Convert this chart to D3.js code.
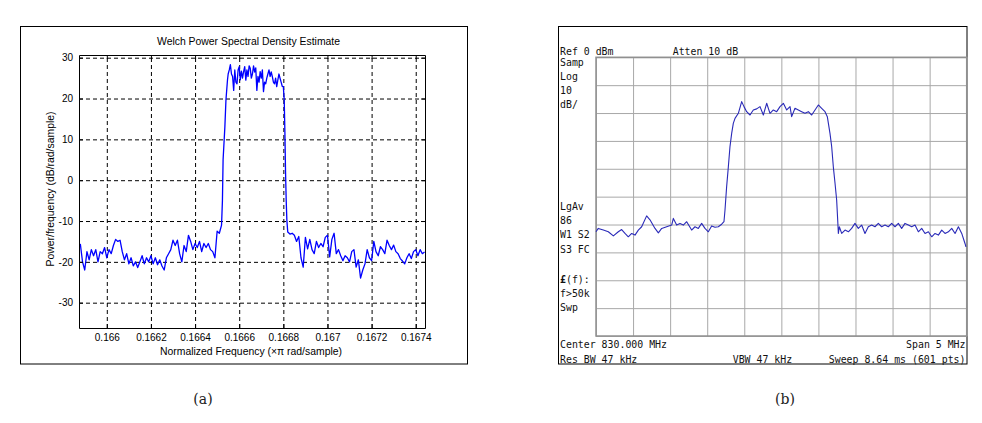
<!DOCTYPE html>
<html><head><meta charset="utf-8">
<script src="https://cdn.jsdelivr.net/npm/d3@7"></script>
<style>
body{margin:0;background:#fff;}
svg{display:block;}
</style></head><body>
<svg id="c" width="982" height="423"></svg>
<script>
// ---------- Chart (a): Welch PSD ----------
const titleA = "Welch Power Spectral Density Estimate";
const xLabelA = "Normalized Frequency (\u00d7\u03c0 rad/sample)";
const yLabelA = "Power/frequency (dB/rad/sample)";
const xDomainA = [0.165874, 0.167442];
const yDomainA = [-36.2, 30.66];
const xTicksA = [0.166, 0.1662, 0.1664, 0.1666, 0.1668, 0.167, 0.1672, 0.1674];
const xTickLabelsA = ["0.166", "0.1662", "0.1664", "0.1666", "0.1668", "0.167", "0.1672", "0.1674"];
const yTicksA = [-30, -20, -10, 0, 10, 20, 30];
const yTickLabelsA = ["-30", "-20", "-10", "0", "10", "20", "30"];
const psdA = [
[0.16588,-15.6],[0.16589,-20],[0.1659,-22],[0.16591,-17.5],[0.16592,-19.5],[0.16593,-17],
[0.16594,-18.5],[0.16595,-17],[0.16596,-20],[0.16597,-17.5],[0.16598,-18],[0.16599,-16.5],
[0.166,-19],[0.16601,-17],[0.16602,-18],[0.16603,-16],[0.16604,-14.5],[0.16605,-15],
[0.16606,-14.7],[0.16607,-17.5],[0.16608,-19.5],[0.16609,-18],[0.1661,-20.5],[0.16611,-19],
[0.16612,-21],[0.16613,-20],[0.16614,-21.4],[0.16615,-20],[0.16616,-18.5],[0.16617,-20.5],
[0.16618,-19],[0.16619,-20],[0.1662,-18.5],[0.16621,-20.5],[0.16622,-19],[0.16623,-20.7],
[0.16624,-19.5],[0.16625,-21],[0.16626,-22],[0.16627,-19],[0.16628,-18],[0.16629,-17],
[0.1663,-14.7],[0.16631,-16],[0.16632,-14.7],[0.16633,-18],[0.16634,-20],[0.16635,-16],
[0.16636,-17.5],[0.16637,-13.5],[0.16638,-15],[0.16639,-17],[0.1664,-15.5],[0.16641,-16.5],
[0.16642,-15],[0.16643,-17.5],[0.16644,-15.5],[0.16645,-16.5],[0.16646,-15.5],[0.16647,-17],
[0.16648,-17.5],[0.16649,-19],[0.1665,-12.5],[0.16651,-13],[0.16652,-11],
[0.166524,-5],[0.166527,5],[0.16653,8],[0.166535,13],[0.16654,19.7],[0.166547,24.6],
[0.16655,26],[0.166555,27],[0.16656,28.3],[0.166565,26],[0.16657,25.4],[0.166575,22],
[0.16658,27],[0.166585,24],[0.16659,23.6],[0.166595,27],[0.1666,27.8],[0.166605,24.6],
[0.16661,26.7],[0.166615,25],[0.16662,26.6],[0.166625,27.8],[0.16663,24.5],[0.166635,27],
[0.16664,25.4],[0.166645,28],[0.16665,27.4],[0.166655,25],[0.16666,26],[0.166665,28],
[0.16667,26.5],[0.166675,27.5],[0.16668,22],[0.166685,25.4],[0.16669,24],[0.166695,26.6],
[0.1667,25],[0.166705,27],[0.16671,21.7],[0.166715,24],[0.16672,23.6],[0.166725,25],
[0.16673,26],[0.166735,27],[0.16674,25.4],[0.166745,26.5],[0.16675,25.4],[0.166755,24],
[0.16676,23.6],[0.166765,25],[0.16677,22.9],[0.166775,24.5],[0.16678,26],[0.166785,25],
[0.16679,24],[0.166795,23],[0.1668,22.9],
[0.166804,19.7],[0.166807,12],[0.16681,2],[0.166813,-5],[0.166816,-9.8],[0.16682,-12.7],[0.16683,-13.2],
[0.16684,-13],[0.16685,-13.5],[0.16686,-15],[0.16687,-13.8],[0.16688,-19],[0.16689,-21.3],
[0.1669,-14],[0.16691,-16.8],[0.16692,-14.5],[0.16693,-17],[0.16694,-18],[0.16695,-15],
[0.16696,-16.5],[0.16697,-15.5],[0.16698,-16.3],[0.16699,-14],[0.167,-13.5],[0.16701,-18.8],
[0.16702,-14.5],[0.16703,-13],[0.16704,-18],[0.16705,-17],[0.16706,-18.5],[0.16707,-19.7],
[0.16708,-18.5],[0.16709,-19],[0.1671,-20],[0.16711,-17.5],[0.16712,-17],[0.16713,-21.3],
[0.16714,-19.5],[0.16715,-24],[0.16716,-22],[0.16717,-20.5],[0.16718,-17],[0.16719,-19],
[0.1672,-19.7],[0.16721,-15],[0.16722,-17.5],[0.16723,-18.5],[0.16724,-16.3],[0.16725,-17],
[0.16726,-18],[0.16727,-14.7],[0.16728,-16],[0.16729,-17],[0.1673,-15.9],[0.16731,-17.5],
[0.16732,-18],[0.16733,-19.2],[0.16734,-19.8],[0.16735,-20.5],[0.16736,-19],[0.16737,-18],
[0.16738,-19.2],[0.16739,-17.5],[0.1674,-17],[0.16741,-18.5],[0.16742,-17],[0.16743,-18],[0.16744,-17.6]
];

// ---------- Chart (b): spectrum analyzer ----------
const xDomainB = [827.5, 832.5];   // Center 830 MHz, span 5 MHz
const yDomainB = [-100, 0];        // Ref 0 dBm, 10 dB/div
const traceB = [
[827.5,-62.6],[827.531,-61.4],[827.599,-62],[827.666,-62.6],[827.734,-64.1],[827.801,-62.6],
[827.846,-61.8],[827.891,-63.2],[827.936,-64.4],[827.981,-63.2],[828.026,-63.8],[828.071,-62],
[828.116,-60.8],[828.183,-56.9],[828.228,-58.3],[828.296,-61.4],[828.341,-63],[828.386,-61.4],
[828.453,-60.8],[828.521,-60.2],[828.543,-57.8],[828.588,-60.2],[828.633,-59.6],[828.678,-60.2],
[828.723,-59],[828.79,-62],[828.835,-60.8],[828.88,-61.4],[828.925,-59.6],[828.97,-61.4],
[829.015,-62.6],[829.06,-60.5],[829.105,-61],[829.15,-60.8],[829.195,-59.9],[829.226,-59],
[829.24,-54.8],[829.262,-46.4],[829.285,-39.3],[829.307,-32.1],[829.33,-27.3],[829.352,-23.7],
[829.375,-21.9],[829.42,-20.1],[829.465,-15.9],[829.496,-17.7],[829.532,-19.5],[829.577,-20.7],
[829.622,-18.9],[829.667,-18.5],[829.712,-17.7],[829.757,-20.7],[829.802,-16.5],[829.847,-20.1],
[829.892,-18.9],[829.937,-19.5],[829.982,-17.7],[830.027,-16.5],[830.072,-18.9],[830.117,-17.7],
[830.139,-21.3],[830.184,-18.3],[830.229,-18.9],[830.274,-19.5],[830.319,-20.1],[830.364,-19.5],
[830.409,-20.7],[830.454,-18.9],[830.499,-17.1],[830.544,-18.3],[830.589,-19.5],[830.62,-21.3],
[830.656,-27.3],[830.679,-32.1],[830.701,-39.3],[830.724,-45.2],[830.746,-51.2],[830.76,-58.4],
[830.769,-63.2],[830.782,-60.8],[830.814,-63.2],[830.859,-62],[830.904,-62.6],[830.948,-61.4],
[830.993,-59.6],[831.038,-61.4],[831.083,-60.2],[831.128,-63.2],[831.173,-60.8],[831.218,-60.2],
[831.263,-60.8],[831.308,-59.6],[831.353,-60.8],[831.398,-60.2],[831.443,-60.8],[831.488,-59.6],
[831.533,-60.8],[831.578,-59.6],[831.623,-61.4],[831.668,-59.6],[831.713,-60.2],[831.758,-60.8],
[831.803,-60.2],[831.848,-62.6],[831.893,-61.4],[831.938,-63.2],[831.983,-62.6],[832.028,-64.4],
[832.073,-63.2],[832.118,-63.8],[832.163,-62],[832.208,-63.2],[832.253,-62.6],[832.298,-61.4],
[832.343,-63.2],[832.388,-60.8],[832.433,-63.2],[832.477,-66.8],[832.49,-68]
];
const headerB = [["Ref 0 dBm", 0], ["Atten 10 dB", 112.7]];
const sideLabelsB = [
  ["Samp", 62.7], ["Log", 76], ["10", 90], ["dB/", 104],
  ["LgAv", 206.7], ["86", 220], ["W1  S2", 234.3], ["S3 FC", 249.3],
  ["f>50k", 293.3], ["Swp", 307.7]
];
const footerLeftB = ["Center 830.000 MHz", "Res BW 47 kHz"];
const footerMidB = "VBW 47 kHz";
const footerRightB = ["Span 5 MHz", "Sweep 8.64 ms (601 pts)"];
const captions = ["(a)", "(b)"];

const svg = d3.select("#c");

// ===== Chart A =====
const A = {L: 79, R: 425, T: 55, B: 328};
const xA = d3.scaleLinear().domain(xDomainA).range([A.L, A.R]);
const yA = d3.scaleLinear().domain(yDomainA).range([A.B, A.T]);
const fontA = "'Liberation Sans', Arial, sans-serif";

svg.append("rect").attr("x", 20.5).attr("y", 26.5).attr("width", 447).attr("height", 337.5)
  .attr("fill", "#fff").attr("stroke", "#000").attr("stroke-width", 1);

const gA = svg.append("g");
// grid
gA.append("g").attr("transform", `translate(0,${A.B})`)
  .call(d3.axisBottom(xA).tickValues(xTicksA).tickSize(-(A.B - A.T)).tickFormat(""))
  .call(g => g.select(".domain").remove())
  .selectAll("line").attr("stroke", "#000").attr("stroke-dasharray", "4,3");
gA.append("g").attr("transform", `translate(${A.L},0)`)
  .call(d3.axisLeft(yA).tickValues(yTicksA).tickSize(-(A.R - A.L)).tickFormat(""))
  .call(g => g.select(".domain").remove())
  .selectAll("line").attr("stroke", "#000").attr("stroke-dasharray", "4,3");

// trace
gA.append("path").datum(psdA)
  .attr("fill", "none").attr("stroke", "#0000ff").attr("stroke-width", 1.3)
  .attr("stroke-linejoin", "round")
  .attr("d", d3.line().x(d => xA(d[0])).y(d => yA(d[1])));

// box + inward ticks + labels
const axB = gA.append("g").attr("transform", `translate(0,${A.B})`)
  .call(d3.axisBottom(xA).tickValues(xTicksA).tickSizeInner(-4).tickSizeOuter(0).tickPadding(6)
    .tickFormat((d, i) => xTickLabelsA[i]));
axB.selectAll("text").attr("font-family", fontA).attr("font-size", 10).attr("fill", "#000");
const axT = gA.append("g").attr("transform", `translate(0,${A.T})`)
  .call(d3.axisTop(xA).tickValues(xTicksA).tickSizeInner(-4).tickSizeOuter(0).tickFormat(""));
const axL = gA.append("g").attr("transform", `translate(${A.L},0)`)
  .call(d3.axisLeft(yA).tickValues(yTicksA).tickSizeInner(-4).tickSizeOuter(0).tickPadding(6)
    .tickFormat((d, i) => yTickLabelsA[i]));
axL.selectAll("text").attr("font-family", fontA).attr("font-size", 10).attr("fill", "#000");
const axR = gA.append("g").attr("transform", `translate(${A.R},0)`)
  .call(d3.axisRight(yA).tickValues(yTicksA).tickSizeInner(-4).tickSizeOuter(0).tickFormat(""));
[axB, axT, axL, axR].forEach(a => { a.select(".domain").attr("stroke", "#000"); a.selectAll("line").attr("stroke", "#000"); });

gA.append("text").attr("x", 248.5).attr("y", 45).attr("text-anchor", "middle")
  .attr("font-family", fontA).attr("font-size", 10).attr("textLength", 183).attr("lengthAdjust", "spacingAndGlyphs")
  .text(titleA);
gA.append("text").attr("x", 251).attr("y", 355).attr("text-anchor", "middle")
  .attr("font-family", fontA).attr("font-size", 10).attr("textLength", 182).attr("lengthAdjust", "spacingAndGlyphs")
  .text(xLabelA);
gA.append("text").attr("transform", "translate(53.5,189) rotate(-90)").attr("text-anchor", "middle")
  .attr("font-family", fontA).attr("font-size", 10).attr("textLength", 155).attr("lengthAdjust", "spacingAndGlyphs")
  .text(yLabelA);

// ===== Chart B =====
const Bp = {L: 596, R: 966.7, T: 57.3, B: 336};
const xB = d3.scaleLinear().domain(xDomainB).range([Bp.L, Bp.R]);
const yB = d3.scaleLinear().domain(yDomainB).range([Bp.B, Bp.T]);
const fontB = "'DejaVu Sans Mono', 'Liberation Mono', monospace";
const fsB = 9.9;

const gB = svg.append("g");
gB.append("rect").attr("x", 558.5).attr("y", 26.5).attr("width", 408.5).attr("height", 337.5)
  .attr("fill", "#fff").attr("stroke", "#000").attr("stroke-width", 1);

gB.append("g").attr("transform", `translate(0,${Bp.B})`)
  .call(d3.axisBottom(xB).ticks(10).tickSize(-(Bp.B - Bp.T)).tickFormat(""))
  .call(g => g.select(".domain").remove())
  .selectAll("line").attr("stroke", "#a8a8a8").attr("stroke-width", 1);
gB.append("g").attr("transform", `translate(${Bp.L},0)`)
  .call(d3.axisLeft(yB).ticks(10).tickSize(-(Bp.R - Bp.L)).tickFormat(""))
  .call(g => g.select(".domain").remove())
  .selectAll("line").attr("stroke", "#a8a8a8").attr("stroke-width", 1);
gB.append("rect").attr("x", Bp.L).attr("y", Bp.T).attr("width", Bp.R - Bp.L).attr("height", Bp.B - Bp.T)
  .attr("fill", "none").attr("stroke", "#909090").attr("stroke-width", 1.5);

gB.append("path").datum(traceB)
  .attr("fill", "none").attr("stroke", "#2a2ab8").attr("stroke-width", 1.1)
  .attr("stroke-linejoin", "round")
  .attr("d", d3.line().x(d => xB(d[0])).y(d => yB(d[1])));

function tB(txt, x, yc, anchor) {
  return gB.append("text").attr("x", x).attr("y", yc + 3.6).attr("text-anchor", anchor || "start")
    .attr("font-family", fontB).attr("font-size", fsB).attr("fill", "#111").text(txt);
}
headerB.forEach(h => tB(h[0], 560 + h[1], 51.7));
sideLabelsB.forEach(s => tB(s[0], 560, s[1]));
const lf = gB.append("text").attr("x", 560).attr("y", 279 + 3.6)
  .attr("font-family", fontB).attr("font-size", fsB).attr("fill", "#111");
lf.append("tspan").attr("font-weight", "bold").text("\u00a3");
lf.append("tspan").text("(f):");
tB(footerLeftB[0], 560, 344.3);
tB(footerLeftB[1], 560, 359.3);
tB(footerMidB, 732.7, 359.3);
tB(footerRightB[0], 965.5, 344.3, "end");
tB(footerRightB[1], 965.5, 359.3, "end");

// captions
const capX = [203, 785];
captions.forEach((c, i) => svg.append("text").attr("x", capX[i]).attr("y", 404).attr("text-anchor", "middle")
  .attr("font-family", "'DejaVu Serif', 'Liberation Serif', serif").attr("font-size", 14).attr("fill", "#222").text(c));
</script>
</body></html>
